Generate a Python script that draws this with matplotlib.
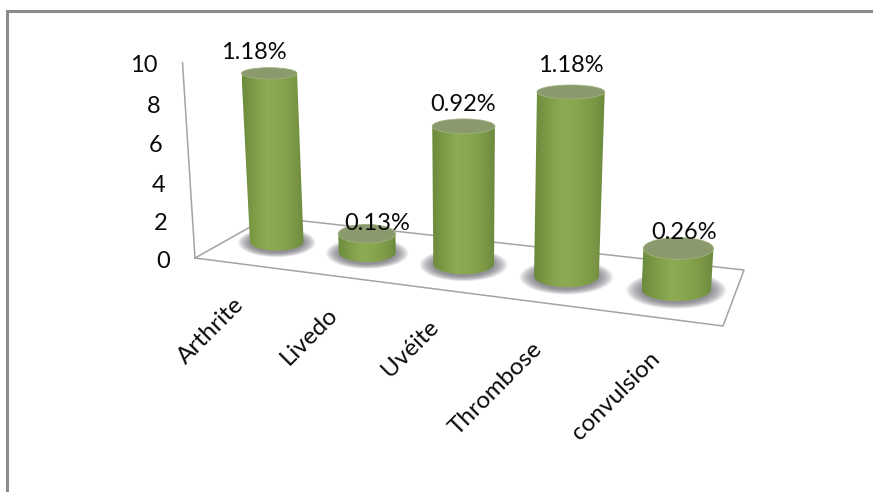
import numpy as np
import matplotlib
matplotlib.use("Agg")
import matplotlib.pyplot as plt
from matplotlib.colors import LinearSegmentedColormap
from matplotlib.patches import Ellipse, PathPatch
from matplotlib.path import Path

plt.rcParams['font.family'] = ['Lato', 'DejaVu Sans']

categories = ['Arthrite', 'Livedo', 'Uvéite', 'Thrombose', 'convulsion']
values = [9, 1, 7, 9, 2]
percent_labels = ['1.18%', '0.13%', '0.92%', '1.18%', '0.26%']
y_ticks = [0, 2, 4, 6, 8, 10]

# offsets of the data labels from the top of each cylinder, in pixels
label_dx = [-15, 10, -1, 0, 6]
label_dy = [-21, -10, -22, -26, -16]
# offsets of the category labels from the front edge of the floor
cat_dx = [-7, -8, -9, -14, -12]
cat_dy = [30, 28, 27, 35, 30]

# corners of the floor on the picture, used to set up the 3d look
floor_uv = [(0, 0), (5, 0), (5, 1), (0, 1)]
floor_px = [(195, 258), (723, 326), (744, 270), (268, 217)]

A = []
b = []
for (u, v), (x, y) in zip(floor_uv, floor_px):
    A.append([u, v, 1, 0, 0, 0, -u * x, -v * x])
    A.append([0, 0, 0, u, v, 1, -u * y, -v * y])
    b += [x, y]
h = np.linalg.solve(np.array(A, float), np.array(b, float))
H = np.append(h, 1).reshape(3, 3)
vert = -0.0044 * np.array([466.0, 4500.0, 1.0])


def project(u, v, z):
    p = H @ np.array([u, v, 1.0]) + z * vert
    return p[0] / p[2], p[1] / p[2]


fig = plt.figure(figsize=(8.73, 4.92), dpi=100)
ax = fig.add_axes([0, 0, 1, 1])
ax.set_xlim(0, 873)
ax.set_ylim(492, 0)
ax.axis('off')

# outer frame
ax.plot([7, 7, 873], [492, 11, 11], color='#8c8c8c', lw=2.2, solid_joinstyle='miter')

# floor and value axis
line = '#a3a3a3'
corners = [project(*c, 0) for c in floor_uv] + [project(*floor_uv[0], 0)]
ax.plot([c[0] for c in corners], [c[1] for c in corners], color=line, lw=1.1)
top = project(0, 0, 10)
ax.plot([floor_px[0][0], top[0]], [floor_px[0][1], top[1]], color=line, lw=1.1)

for t in y_ticks:
    x, y = project(0, 0, t)
    ax.text(x - 25, y + 3, str(t), ha='right', va='center', fontsize=17, color='#0a0a0a')

bar_cmap = LinearSegmentedColormap.from_list(
    'bar', ['#6b8a3c', '#7f9d47', '#8dab53', '#88a64e', '#7e9c47', '#6c8a3e'])
grad = np.linspace(0, 1, 128).reshape(1, -1)

for i, val in enumerate(values):
    uc = i + 0.5
    bx, by = project(uc, 0.5, 0)
    tx, ty = project(uc, 0.5, val)
    lb = project(uc - 0.305, 0.5, 0)
    rb = project(uc + 0.305, 0.5, 0)
    lt = project(uc - 0.305, 0.5, val)
    rt = project(uc + 0.305, 0.5, val)
    rx_b = (rb[0] - lb[0]) / 2
    rx_t = (rt[0] - lt[0]) / 2
    ry_b = rx_b * 0.34
    ry_t = rx_t * (0.34 - 0.015 * val)

    # soft shadow under the cylinder
    for s in np.linspace(1.45, 1.0, 14):
        ax.add_patch(Ellipse((bx, by + 1), 2 * rx_b * s, 2 * (ry_b + 1) * s,
                             fc='#5a5a64', ec='none', alpha=0.07, zorder=2 + i))

    # body, with the shading clipped to its outline
    th = np.linspace(np.pi, 0, 40)
    xs = list(bx + rx_b * np.cos(th))
    ys = list(by + ry_b * np.sin(th))
    verts = [(tx - rx_t, ty), (tx + rx_t, ty)] + list(zip(xs[::-1], ys[::-1]))
    path = Path(verts + [verts[0]])
    left = min(tx - rx_t, bx - rx_b)
    right = max(tx + rx_t, bx + rx_b)
    im = ax.imshow(grad, cmap=bar_cmap, aspect='auto', zorder=3 + i,
                   extent=(left, right, by + ry_b + 1, ty - 1))
    im.set_clip_path(PathPatch(path, transform=ax.transData))

    ax.add_patch(Ellipse((tx, ty), 2 * rx_t, 2 * ry_t, fc='#8a9a6c',
                         ec='#9fb07f', lw=0.6, zorder=3.5 + i))

    ax.text(tx + label_dx[i], ty + label_dy[i], percent_labels[i], ha='center',
            va='center', fontsize=17, color='#0a0a0a', zorder=20)

    fx, fy = project(uc, 0, 0)
    ax.text(fx + cat_dx[i], fy + cat_dy[i], categories[i], rotation=45, rotation_mode='anchor',
            ha='right', va='top', fontsize=17.5, color='#0a0a0a', zorder=20)

ax.set_xlim(0, 873)
ax.set_ylim(492, 0)
fig.savefig('out.png', dpi=100)
